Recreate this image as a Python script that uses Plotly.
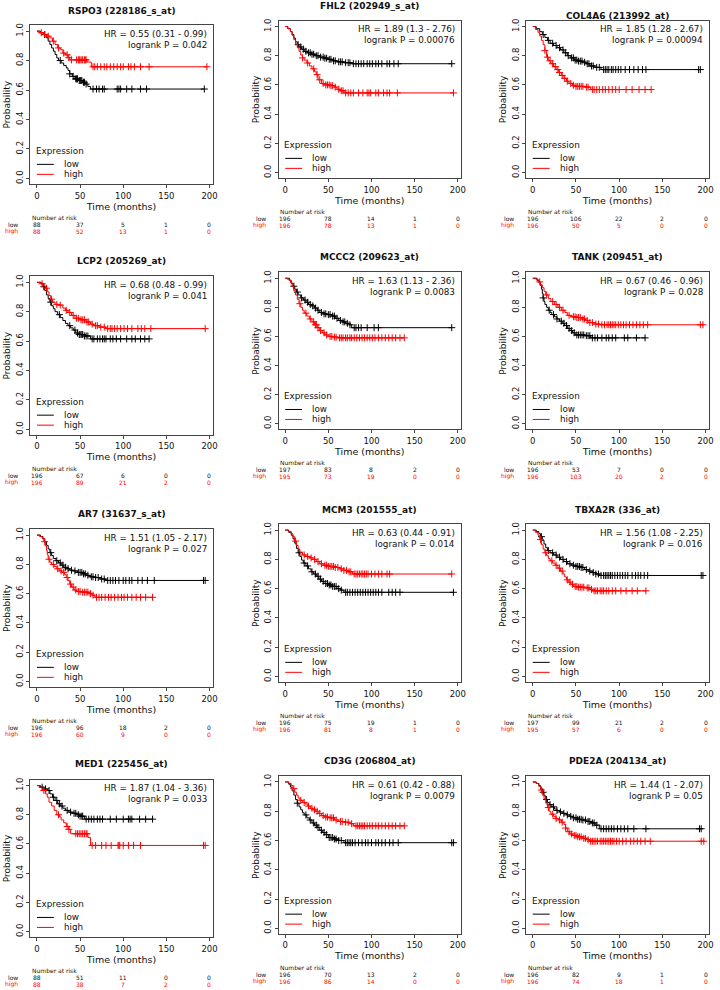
import plotly.graph_objects as go

W, H = 720, 990

TITLES = ["RSPO3 (228186_s_at)", "FHL2 (202949_s_at)", "COL4A6 (213992_at)",
          "LCP2 (205269_at)", "MCCC2 (209623_at)", "TANK (209451_at)",
          "AR7 (31637_s_at)", "MCM3 (201555_at)", "TBXA2R (336_at)",
          "MED1 (225456_at)", "CD3G (206804_at)", "PDE2A (204134_at)"]
HR_TEXT = ["HR = 0.55 (0.31 - 0.99)", "HR = 1.89 (1.3 - 2.76)", "HR = 1.85 (1.28 - 2.67)",
           "HR = 0.68 (0.48 - 0.99)", "HR = 1.63 (1.13 - 2.36)", "HR = 0.67 (0.46 - 0.96)",
           "HR = 1.51 (1.05 - 2.17)", "HR = 0.63 (0.44 - 0.91)", "HR = 1.56 (1.08 - 2.25)",
           "HR = 1.87 (1.04 - 3.36)", "HR = 0.61 (0.42 - 0.88)", "HR = 1.44 (1 - 2.07)"]
P_TEXT = ["logrank P = 0.042", "logrank P = 0.00076", "logrank P = 0.00094",
          "logrank P = 0.041", "logrank P = 0.0083", "logrank P = 0.028",
          "logrank P = 0.027", "logrank P = 0.014", "logrank P = 0.016",
          "logrank P = 0.033", "logrank P = 0.0079", "logrank P = 0.05"]
RISK_TIMES = [0, 50, 100, 150, 200]
RISK_LOW = [[88, 37, 5, 1, 0], [196, 78, 14, 1, 0], [196, 106, 22, 2, 0],
            [196, 67, 6, 0, 0], [197, 83, 8, 2, 0], [196, 53, 7, 0, 0],
            [196, 96, 18, 2, 0], [196, 75, 19, 1, 0], [197, 99, 21, 2, 0],
            [88, 51, 11, 0, 0], [196, 70, 13, 2, 0], [196, 82, 9, 1, 0]]
RISK_HIGH = [[88, 52, 13, 1, 0], [196, 78, 13, 1, 0], [196, 50, 5, 0, 0],
             [196, 89, 21, 2, 0], [195, 73, 19, 0, 0], [196, 103, 20, 2, 0],
             [196, 60, 9, 0, 0], [196, 81, 8, 1, 0], [195, 57, 6, 0, 0],
             [88, 38, 7, 2, 0], [196, 86, 14, 0, 0], [196, 74, 18, 1, 0]]

# ---- Kaplan-Meier curves: step times, survival levels, censor times ----
RSPO3_LOW_T = [0, 4, 8, 11, 13, 15, 17, 19, 21, 23, 25, 28, 31, 34, 36, 38, 41, 44, 48, 53, 56, 59, 62, 194]
RSPO3_LOW_S = [1.0, 0.989, 0.977, 0.955, 0.932, 0.909, 0.886, 0.864, 0.841, 0.818, 0.801, 0.784, 0.767, 0.75, 0.733, 0.71, 0.693, 0.676, 0.665, 0.653, 0.641, 0.624, 0.607, 0.607]
RSPO3_LOW_C = [9, 27, 38, 42, 45, 46, 47, 49, 50, 51, 52, 54, 55, 57, 65, 69, 72, 76, 78, 93, 95, 97, 104, 110, 120, 127, 194]
RSPO3_HIGH_T = [0, 3, 7, 11, 15, 18, 21, 24, 27, 30, 33, 36, 38, 58, 63, 197]
RSPO3_HIGH_S = [1.0, 0.989, 0.977, 0.966, 0.954, 0.932, 0.909, 0.886, 0.874, 0.851, 0.839, 0.82, 0.805, 0.79, 0.758, 0.758]
RSPO3_HIGH_C = [5, 9, 13, 19, 25, 31, 35, 37, 40, 46, 48, 49, 50, 52, 53, 55, 56, 57, 65, 67, 70, 74, 78, 81, 85, 89, 93, 97, 100, 106, 109, 113, 120, 130, 197]

FHL2_LOW_T = [0, 3, 6, 8, 10, 12, 14, 16, 19, 22, 26, 30, 35, 40, 45, 50, 55, 60, 68, 77, 193]
FHL2_LOW_S = [1.0, 0.985, 0.965, 0.945, 0.92, 0.895, 0.875, 0.86, 0.845, 0.83, 0.82, 0.81, 0.80, 0.79, 0.783, 0.775, 0.765, 0.758, 0.752, 0.745, 0.745]
FHL2_LOW_C = [15, 18, 21, 24, 27, 29, 31, 33, 36, 38, 41, 44, 46, 48, 51, 53, 56, 58, 62, 64, 66, 70, 73, 75, 79, 82, 85, 88, 91, 95, 98, 101, 105, 108, 112, 118, 121, 126, 131, 193]
FHL2_HIGH_T = [0, 3, 6, 8, 10, 12, 14, 16, 18, 20, 22, 25, 28, 31, 34, 36, 38, 42, 46, 52, 57, 60, 64, 68, 195]
FHL2_HIGH_S = [1.0, 0.985, 0.965, 0.94, 0.91, 0.88, 0.855, 0.83, 0.805, 0.785, 0.77, 0.75, 0.73, 0.71, 0.69, 0.67, 0.635, 0.61, 0.60, 0.595, 0.585, 0.57, 0.56, 0.545, 0.545]
FHL2_HIGH_C = [20, 26, 33, 37, 40, 44, 47, 49, 51, 53, 55, 58, 62, 65, 67, 70, 73, 76, 79, 85, 90, 95, 97, 99, 105, 108, 114, 118, 121, 130, 195]

COL4A6_LOW_T = [0, 4, 8, 11, 14, 17, 20, 24, 28, 32, 36, 40, 44, 48, 52, 58, 62, 66, 72, 79, 194]
COL4A6_LOW_S = [1.0, 0.985, 0.965, 0.945, 0.925, 0.905, 0.885, 0.87, 0.855, 0.84, 0.82, 0.80, 0.785, 0.77, 0.763, 0.755, 0.745, 0.73, 0.72, 0.705, 0.705]
COL4A6_LOW_C = [12, 18, 23, 27, 31, 35, 38, 41, 45, 47, 49, 51, 53, 55, 57, 60, 63, 65, 68, 70, 74, 77, 82, 84, 86, 88, 91, 93, 96, 99, 102, 107, 112, 117, 122, 127, 131, 192, 194]
COL4A6_HIGH_T = [0, 3, 6, 8, 10, 12, 14, 16, 18, 21, 24, 27, 30, 33, 36, 39, 42, 46, 49, 60, 67, 137]
COL4A6_HIGH_S = [1.0, 0.98, 0.96, 0.935, 0.905, 0.875, 0.835, 0.79, 0.765, 0.745, 0.725, 0.705, 0.685, 0.665, 0.645, 0.625, 0.61, 0.598, 0.59, 0.585, 0.568, 0.568]
COL4A6_HIGH_C = [14, 17, 20, 23, 26, 29, 31, 34, 37, 40, 44, 47, 50, 52, 54, 56, 58, 62, 64, 69, 71, 74, 77, 81, 84, 88, 92, 96, 100, 108, 115, 123, 130, 137]

LCP2_LOW_T = [0, 5, 7, 9, 11, 13, 15, 17, 19, 21, 24, 27, 30, 33, 36, 39, 42, 45, 48, 55, 62, 130]
LCP2_LOW_S = [1.0, 0.99, 0.97, 0.945, 0.915, 0.89, 0.865, 0.84, 0.82, 0.80, 0.78, 0.76, 0.74, 0.72, 0.705, 0.69, 0.675, 0.655, 0.645, 0.635, 0.615, 0.615]
LCP2_LOW_C = [8, 16, 26, 38, 44, 47, 49, 50, 52, 53, 55, 57, 59, 64, 66, 70, 73, 76, 78, 80, 85, 88, 92, 97, 104, 110, 114, 120, 125, 130]
LCP2_HIGH_T = [0, 4, 8, 10, 12, 14, 16, 18, 21, 25, 30, 33, 36, 40, 44, 50, 57, 62, 66, 72, 80, 195]
LCP2_HIGH_S = [1.0, 0.99, 0.975, 0.96, 0.935, 0.91, 0.885, 0.865, 0.85, 0.845, 0.825, 0.81, 0.795, 0.775, 0.755, 0.745, 0.73, 0.715, 0.705, 0.695, 0.685, 0.685]
LCP2_HIGH_C = [6, 11, 17, 23, 27, 34, 38, 42, 46, 48, 51, 53, 55, 58, 60, 64, 68, 70, 74, 78, 82, 85, 87, 90, 93, 97, 101, 105, 110, 117, 121, 125, 132, 195]

MCCC2_LOW_T = [0, 5, 7, 9, 11, 13, 15, 18, 21, 24, 27, 30, 34, 37, 40, 44, 48, 54, 58, 62, 66, 70, 74, 77, 193]
MCCC2_LOW_S = [1.0, 0.985, 0.965, 0.945, 0.925, 0.905, 0.885, 0.865, 0.85, 0.835, 0.82, 0.81, 0.795, 0.78, 0.765, 0.755, 0.75, 0.74, 0.725, 0.71, 0.70, 0.69, 0.68, 0.66, 0.66]
MCCC2_LOW_C = [10, 14, 19, 23, 26, 29, 32, 35, 38, 42, 45, 47, 50, 52, 55, 57, 60, 64, 67, 69, 72, 75, 80, 82, 85, 88, 95, 103, 108, 193]
MCCC2_HIGH_T = [0, 3, 6, 8, 10, 12, 14, 16, 18, 20, 22, 25, 28, 31, 34, 37, 40, 43, 46, 50, 55, 61, 138]
MCCC2_HIGH_S = [1.0, 0.99, 0.97, 0.945, 0.915, 0.885, 0.855, 0.825, 0.80, 0.78, 0.76, 0.74, 0.72, 0.70, 0.68, 0.66, 0.64, 0.625, 0.61, 0.60, 0.595, 0.59, 0.59]
MCCC2_HIGH_C = [17, 24, 29, 33, 35, 36, 38, 41, 45, 48, 52, 54, 57, 59, 63, 65, 67, 70, 72, 75, 77, 80, 83, 86, 89, 92, 95, 98, 101, 104, 108, 112, 116, 120, 124, 128, 133, 138]

TANK_LOW_T = [0, 5, 7, 9, 10, 11, 12, 13, 14, 16, 18, 20, 22, 25, 28, 31, 34, 37, 40, 43, 46, 49, 60, 67, 130]
TANK_LOW_S = [1.0, 0.985, 0.97, 0.95, 0.925, 0.895, 0.865, 0.84, 0.82, 0.80, 0.78, 0.765, 0.75, 0.735, 0.72, 0.705, 0.69, 0.675, 0.655, 0.64, 0.625, 0.61, 0.605, 0.59, 0.59]
TANK_LOW_C = [12, 19, 24, 28, 33, 36, 39, 42, 45, 48, 51, 53, 55, 57, 59, 62, 64, 66, 69, 72, 75, 80, 85, 88, 92, 96, 106, 110, 120, 130]
TANK_HIGH_T = [0, 4, 7, 9, 11, 13, 15, 18, 21, 25, 29, 33, 37, 40, 44, 50, 57, 61, 64, 70, 78, 197]
TANK_HIGH_S = [1.0, 0.99, 0.975, 0.955, 0.935, 0.91, 0.885, 0.86, 0.84, 0.82, 0.80, 0.78, 0.765, 0.745, 0.735, 0.73, 0.72, 0.71, 0.695, 0.685, 0.68, 0.68]
TANK_HIGH_C = [8, 16, 23, 27, 31, 35, 42, 47, 49, 51, 53, 55, 58, 60, 63, 66, 69, 73, 76, 80, 83, 86, 88, 90, 92, 94, 96, 99, 102, 105, 108, 112, 116, 120, 124, 128, 133, 194, 197]

AR7_LOW_T = [0, 4, 7, 9, 11, 13, 15, 17, 19, 22, 25, 28, 31, 34, 38, 42, 47, 53, 57, 61, 66, 73, 80, 195]
AR7_LOW_S = [1.0, 0.99, 0.975, 0.955, 0.93, 0.905, 0.88, 0.86, 0.84, 0.825, 0.81, 0.795, 0.78, 0.77, 0.76, 0.755, 0.745, 0.735, 0.725, 0.715, 0.71, 0.70, 0.69, 0.69]
AR7_LOW_C = [16, 23, 27, 30, 33, 36, 40, 44, 48, 50, 52, 54, 56, 59, 63, 65, 68, 71, 75, 78, 82, 85, 88, 91, 95, 100, 103, 107, 110, 117, 122, 128, 136, 193, 195]
AR7_HIGH_T = [0, 3, 6, 8, 10, 11, 12, 13, 15, 17, 20, 23, 26, 29, 32, 34, 36, 38, 40, 43, 46, 52, 61, 64, 67, 134]
AR7_HIGH_S = [1.0, 0.99, 0.975, 0.955, 0.925, 0.895, 0.865, 0.835, 0.815, 0.80, 0.785, 0.77, 0.755, 0.745, 0.73, 0.71, 0.69, 0.665, 0.645, 0.625, 0.615, 0.61, 0.60, 0.59, 0.575, 0.575]
AR7_HIGH_C = [9, 14, 19, 24, 28, 31, 35, 39, 42, 45, 48, 50, 53, 55, 57, 59, 62, 65, 69, 72, 75, 79, 83, 86, 90, 94, 98, 101, 105, 110, 115, 120, 126, 134]

MCM3_LOW_T = [0, 4, 7, 9, 11, 13, 15, 17, 19, 21, 24, 27, 30, 33, 36, 39, 42, 45, 50, 55, 60, 64, 68, 195]
MCM3_LOW_S = [1.0, 0.985, 0.965, 0.94, 0.91, 0.875, 0.845, 0.82, 0.795, 0.775, 0.755, 0.735, 0.715, 0.70, 0.685, 0.665, 0.65, 0.635, 0.625, 0.615, 0.60, 0.59, 0.575, 0.575]
MCM3_LOW_C = [16, 22, 26, 31, 35, 38, 41, 44, 47, 49, 51, 53, 55, 57, 59, 62, 65, 70, 72, 75, 78, 81, 84, 87, 90, 93, 96, 99, 102, 105, 108, 112, 120, 124, 128, 133, 195]
MCM3_HIGH_T = [0, 4, 7, 9, 11, 13, 15, 17, 20, 24, 28, 32, 36, 40, 44, 50, 58, 63, 68, 73, 78, 193]
MCM3_HIGH_S = [1.0, 0.99, 0.975, 0.955, 0.925, 0.895, 0.87, 0.85, 0.83, 0.82, 0.81, 0.80, 0.785, 0.77, 0.76, 0.752, 0.745, 0.735, 0.725, 0.715, 0.70, 0.70]
MCM3_HIGH_C = [12, 22, 26, 30, 34, 38, 42, 46, 48, 50, 52, 54, 56, 58, 61, 65, 68, 71, 74, 76, 80, 82, 84, 86, 88, 90, 92, 94, 96, 100, 104, 108, 112, 118, 121, 193]

TBXA2R_LOW_T = [0, 4, 7, 9, 11, 13, 15, 17, 20, 24, 28, 32, 36, 40, 45, 50, 55, 60, 64, 69, 73, 77, 197]
TBXA2R_LOW_S = [1.0, 0.99, 0.975, 0.955, 0.93, 0.905, 0.88, 0.86, 0.845, 0.83, 0.815, 0.80, 0.785, 0.77, 0.76, 0.752, 0.745, 0.73, 0.72, 0.71, 0.70, 0.69, 0.69]
TBXA2R_LOW_C = [10, 18, 23, 27, 31, 35, 39, 43, 47, 50, 52, 54, 56, 58, 62, 66, 70, 73, 76, 79, 82, 84, 86, 88, 90, 92, 95, 98, 101, 104, 107, 110, 115, 119, 122, 125, 129, 133, 195, 197]
TBXA2R_HIGH_T = [0, 3, 6, 8, 10, 12, 14, 16, 18, 20, 23, 26, 29, 32, 35, 37, 39, 41, 44, 47, 52, 60, 66, 69, 131]
TBXA2R_HIGH_S = [1.0, 0.985, 0.965, 0.935, 0.90, 0.87, 0.845, 0.825, 0.805, 0.79, 0.775, 0.76, 0.74, 0.72, 0.70, 0.68, 0.66, 0.645, 0.63, 0.615, 0.61, 0.605, 0.595, 0.585, 0.585]
TBXA2R_HIGH_C = [9, 15, 22, 27, 31, 34, 40, 43, 46, 49, 51, 53, 55, 57, 59, 63, 65, 68, 71, 73, 75, 78, 80, 82, 85, 88, 92, 96, 102, 108, 115, 121, 131]

MED1_LOW_T = [0, 4, 8, 12, 15, 18, 21, 24, 27, 30, 33, 37, 41, 46, 50, 55, 134]
MED1_LOW_S = [1.0, 0.989, 0.977, 0.966, 0.943, 0.92, 0.898, 0.875, 0.86, 0.845, 0.83, 0.818, 0.81, 0.80, 0.79, 0.77, 0.77]
MED1_LOW_C = [6, 10, 14, 19, 23, 26, 29, 35, 39, 43, 45, 48, 50, 52, 53, 57, 60, 63, 66, 70, 73, 76, 85, 92, 100, 106, 108, 110, 119, 126, 134]
MED1_HIGH_T = [0, 3, 6, 8, 10, 12, 14, 17, 20, 23, 26, 28, 31, 34, 37, 39, 59, 62, 195]
MED1_HIGH_S = [1.0, 0.989, 0.977, 0.966, 0.943, 0.92, 0.886, 0.86, 0.83, 0.80, 0.785, 0.765, 0.745, 0.72, 0.70, 0.67, 0.645, 0.59, 0.59]
MED1_HIGH_C = [8, 25, 35, 37, 45, 47, 49, 51, 53, 55, 57, 58, 64, 68, 75, 80, 86, 94, 95, 96, 100, 106, 112, 120, 193, 195]

CD3G_LOW_T = [0, 4, 6, 8, 10, 12, 14, 16, 18, 20, 22, 25, 28, 31, 34, 37, 40, 43, 46, 50, 56, 62, 68, 195]
CD3G_LOW_S = [1.0, 0.985, 0.965, 0.94, 0.91, 0.88, 0.855, 0.83, 0.81, 0.79, 0.775, 0.755, 0.74, 0.72, 0.705, 0.69, 0.67, 0.655, 0.64, 0.62, 0.61, 0.60, 0.585, 0.585]
CD3G_LOW_C = [14, 24, 29, 33, 36, 38, 42, 45, 48, 51, 53, 55, 57, 59, 62, 65, 70, 72, 74, 76, 78, 81, 85, 89, 93, 96, 100, 105, 108, 112, 116, 121, 125, 131, 193, 195]
CD3G_HIGH_T = [0, 4, 7, 9, 11, 13, 15, 17, 20, 23, 26, 29, 32, 35, 38, 42, 46, 51, 57, 62, 68, 75, 79, 138]
CD3G_HIGH_S = [1.0, 0.99, 0.975, 0.955, 0.93, 0.91, 0.89, 0.875, 0.86, 0.85, 0.835, 0.82, 0.81, 0.80, 0.785, 0.77, 0.76, 0.755, 0.74, 0.73, 0.725, 0.715, 0.70, 0.70]
CD3G_HIGH_C = [10, 18, 22, 27, 31, 34, 37, 40, 44, 47, 49, 52, 54, 56, 59, 64, 66, 70, 73, 77, 82, 84, 86, 88, 90, 92, 95, 98, 101, 105, 108, 112, 116, 120, 124, 128, 133, 138]

PDE2A_LOW_T = [0, 4, 7, 9, 11, 13, 15, 17, 19, 22, 25, 28, 31, 35, 39, 43, 47, 52, 57, 62, 67, 72, 77, 195]
PDE2A_LOW_S = [1.0, 0.99, 0.975, 0.955, 0.93, 0.905, 0.88, 0.86, 0.845, 0.83, 0.815, 0.805, 0.795, 0.785, 0.775, 0.765, 0.755, 0.745, 0.74, 0.73, 0.72, 0.705, 0.68, 0.68]
PDE2A_LOW_C = [12, 16, 20, 24, 28, 32, 36, 40, 44, 47, 50, 52, 54, 56, 58, 61, 64, 66, 69, 71, 74, 79, 82, 85, 88, 91, 94, 98, 102, 106, 110, 117, 131, 193, 195]
PDE2A_HIGH_T = [0, 4, 7, 9, 11, 13, 15, 17, 19, 21, 24, 27, 30, 33, 36, 38, 40, 43, 46, 52, 58, 62, 66, 198]
PDE2A_HIGH_S = [1.0, 0.99, 0.97, 0.945, 0.915, 0.885, 0.855, 0.825, 0.80, 0.78, 0.765, 0.75, 0.74, 0.725, 0.71, 0.685, 0.66, 0.645, 0.635, 0.625, 0.615, 0.605, 0.595, 0.595]
PDE2A_HIGH_C = [10, 18, 23, 27, 31, 34, 38, 42, 45, 48, 50, 52, 54, 56, 59, 61, 64, 67, 69, 71, 73, 75, 78, 80, 82, 84, 86, 88, 90, 92, 94, 97, 100, 104, 108, 113, 117, 121, 125, 130, 136, 195, 198]

CURVES = [
    (RSPO3_LOW_T, RSPO3_LOW_S, RSPO3_LOW_C, RSPO3_HIGH_T, RSPO3_HIGH_S, RSPO3_HIGH_C),
    (FHL2_LOW_T, FHL2_LOW_S, FHL2_LOW_C, FHL2_HIGH_T, FHL2_HIGH_S, FHL2_HIGH_C),
    (COL4A6_LOW_T, COL4A6_LOW_S, COL4A6_LOW_C, COL4A6_HIGH_T, COL4A6_HIGH_S, COL4A6_HIGH_C),
    (LCP2_LOW_T, LCP2_LOW_S, LCP2_LOW_C, LCP2_HIGH_T, LCP2_HIGH_S, LCP2_HIGH_C),
    (MCCC2_LOW_T, MCCC2_LOW_S, MCCC2_LOW_C, MCCC2_HIGH_T, MCCC2_HIGH_S, MCCC2_HIGH_C),
    (TANK_LOW_T, TANK_LOW_S, TANK_LOW_C, TANK_HIGH_T, TANK_HIGH_S, TANK_HIGH_C),
    (AR7_LOW_T, AR7_LOW_S, AR7_LOW_C, AR7_HIGH_T, AR7_HIGH_S, AR7_HIGH_C),
    (MCM3_LOW_T, MCM3_LOW_S, MCM3_LOW_C, MCM3_HIGH_T, MCM3_HIGH_S, MCM3_HIGH_C),
    (TBXA2R_LOW_T, TBXA2R_LOW_S, TBXA2R_LOW_C, TBXA2R_HIGH_T, TBXA2R_HIGH_S, TBXA2R_HIGH_C),
    (MED1_LOW_T, MED1_LOW_S, MED1_LOW_C, MED1_HIGH_T, MED1_HIGH_S, MED1_HIGH_C),
    (CD3G_LOW_T, CD3G_LOW_S, CD3G_LOW_C, CD3G_HIGH_T, CD3G_HIGH_S, CD3G_HIGH_C),
    (PDE2A_LOW_T, PDE2A_LOW_S, PDE2A_LOW_C, PDE2A_HIGH_T, PDE2A_HIGH_S, PDE2A_HIGH_C),
]

# ---- layout geometry (pixels): plot box left, right, top, bottom; title gap ----
BOXES = [(30.7, 214, 23.3, 182.7, 14.3), (280.7, 464, 18.7, 176.7, 14.7), (530, 713.5, 18.7, 176.7, 4.7),
         (30.7, 214, 275, 434, 15), (280.7, 464, 271, 428.3, 15.3), (530, 713.5, 271, 428.3, 15.3),
         (30.7, 214, 528.3, 686.7, 15), (280.7, 464, 523.3, 681.7, 14), (530, 713.5, 523.3, 681.7, 14),
         (30.7, 214, 779.3, 937.3, 15.3), (280.7, 464, 775.7, 934, 15), (530, 713.5, 775.7, 934, 15)]

FONT = "DejaVu Sans"
BLACK = "#000000"
RED = "#ff0000"
AXC = "#444444"


def surv_at(ts, ss, c):
    v = ss[0]
    for t, s in zip(ts, ss):
        if t <= c:
            v = s
        else:
            break
    return v


fig = go.Figure()
layout = dict(width=W, height=H, autosize=False, margin=dict(l=0, r=0, t=0, b=0),
              paper_bgcolor="white", plot_bgcolor="white", showlegend=False,
              font=dict(family=FONT, color="#000000"), hovermode=False)
annotations = []
shapes = []

for i in range(12):
    n = "" if i == 0 else str(i + 1)
    xa, ya = "x" + n, "y" + n
    l, r, t, b, tgap = BOXES[i]
    wpx = r - l
    layout["xaxis" + n] = dict(
        domain=[l / W, r / W], anchor=ya, range=[-7.5, 203.5],
        tickvals=[0, 50, 100, 150, 200], ticks="outside", ticklen=3, tickwidth=1,
        tickcolor=AXC, showline=True, linecolor=AXC, linewidth=1, mirror=True,
        showgrid=False, zeroline=False, tickfont=dict(size=8.5, family=FONT, color="#111"),
        title=dict(text="Time (months)", font=dict(size=9.5, family=FONT, color="#111"), standoff=2))
    layout["yaxis" + n] = dict(
        domain=[1 - b / H, 1 - t / H], anchor=xa, range=[-0.04, 1.04],
        tickvals=[0, 0.2, 0.4, 0.6, 0.8, 1.0], ticktext=["0.0", "0.2", "0.4", "0.6", "0.8", "1.0"],
        tickangle=-90, ticks="outside", ticklen=3, tickwidth=1, tickcolor=AXC,
        showline=True, linecolor=AXC, linewidth=1, mirror=True, showgrid=False, zeroline=False,
        tickfont=dict(size=8.5, family=FONT, color="#111"),
        title=dict(text="Probability", font=dict(size=9, family=FONT, color="#111"), standoff=2))

    lt, ls, lc, ht, hs, hc = CURVES[i]
    for ts, ss, cs, col in ((lt, ls, lc, BLACK), (ht, hs, hc, RED)):
        fig.add_trace(go.Scatter(x=ts, y=ss, mode="lines", xaxis=xa, yaxis=ya,
                                 line=dict(color=col, width=1, shape="hv"), hoverinfo="skip"))
        fig.add_trace(go.Scatter(x=cs, y=[surv_at(ts, ss, c) for c in cs], mode="markers",
                                 xaxis=xa, yaxis=ya, hoverinfo="skip",
                                 marker=dict(symbol="cross-thin", size=5,
                                             line=dict(width=1, color=col))))

    xd, yd = xa + " domain", ya + " domain"
    # title
    annotations.append(dict(text="<b>" + TITLES[i] + "</b>", xref=xd, yref=yd, x=0.5, y=1,
                            yshift=tgap, xanchor="center", yanchor="middle", showarrow=False,
                            font=dict(size=9, family=FONT, color="#111")))
    # HR and logrank text
    annotations.append(dict(text=HR_TEXT[i], xref=xd, yref=yd, x=1, y=1, xshift=-3.3, yshift=-8.7,
                            xanchor="right", yanchor="middle", showarrow=False,
                            font=dict(size=8.8, family=FONT, color="#111")))
    annotations.append(dict(text=P_TEXT[i], xref=xd, yref=yd, x=1, y=1, xshift=-3.3, yshift=-19.7,
                            xanchor="right", yanchor="middle", showarrow=False,
                            font=dict(size=8.8, family=FONT, color="#111")))
    # legend key
    annotations.append(dict(text="Expression", xref=xd, yref=yd, x=0, y=0, xshift=3.6, yshift=33,
                            xanchor="left", yanchor="middle", showarrow=False,
                            font=dict(size=8.8, family=FONT, color="#111")))
    for lab, col, dy in (("low", BLACK, 20), ("high", RED, 10)):
        annotations.append(dict(text=lab, xref=xd, yref=yd, x=0, y=0, xshift=31.5, yshift=dy,
                                xanchor="left", yanchor="middle", showarrow=False,
                                font=dict(size=8.8, family=FONT, color="#111")))
        shapes.append(dict(type="line", xref=xd, yref=yd, x0=6.5 / wpx, x1=23.5 / wpx,
                           y0=dy / (b - t), y1=dy / (b - t), line=dict(color=col, width=1)))
    # number at risk table
    annotations.append(dict(text="Number at risk", xref=xd, yref=yd, x=0, y=0, xshift=-0.5, yshift=-33,
                            xanchor="left", yanchor="middle", showarrow=False,
                            font=dict(size=6, family=FONT, color="#111")))
    for lab, vals, col, dy in (("low", RISK_LOW[i], "#111", -40), ("high", RISK_HIGH[i], RED, -47)):
        annotations.append(dict(text=lab, xref=xd, yref=yd, x=0, y=0, xshift=-10.5, yshift=dy,
                                xanchor="right", yanchor="middle", showarrow=False,
                                font=dict(size=6, family=FONT, color=col)))
        for tv, v in zip(RISK_TIMES, vals):
            annotations.append(dict(text=str(v), xref=xa, yref=yd, x=tv, y=0, yshift=dy,
                                    xanchor="center", yanchor="middle", showarrow=False,
                                    font=dict(size=6, family=FONT, color=col)))

layout["annotations"] = annotations
layout["shapes"] = shapes
fig.update_layout(**layout)
fig.write_html("out.html", config={"displayModeBar": False},
               post_script="document.body.style.margin='0';document.body.style.overflow='hidden';")
